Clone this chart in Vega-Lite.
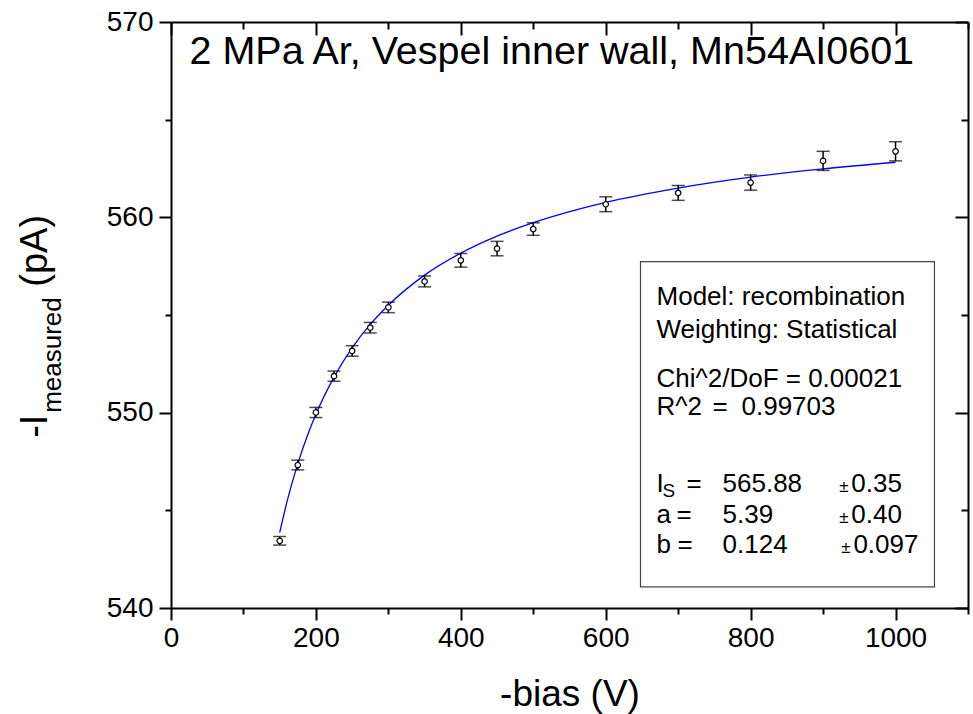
{
  "$schema": "https://vega.github.io/schema/vega-lite/v6.json",
  "autosize": {"type": "none"},
  "padding": {"left": 171, "top": 22, "right": 5, "bottom": 106},
  "width": 797,
  "height": 586,
  "background": "white",
  "config": {
    "view": {"stroke": null},
    "axis": {
      "grid": false,
      "domainColor": "black",
      "domainWidth": 2,
      "tickColor": "black",
      "tickWidth": 2,
      "labelFont": "Liberation Sans",
      "labelFontSize": 28,
      "labelColor": "black",
      "titleFont": "Liberation Sans",
      "titleColor": "black",
      "titleFontWeight": "normal"
    },
    "text": {"font": "Liberation Sans", "color": "black"}
  },
  "datasets": {
    "meas": [
      {"bias": 150, "current": 543.44, "lo": 543.22, "hi": 543.66},
      {"bias": 175, "current": 547.32, "lo": 547.07, "hi": 547.57},
      {"bias": 200, "current": 550.01, "lo": 549.75, "hi": 550.27},
      {"bias": 225, "current": 551.87, "lo": 551.61, "hi": 552.13},
      {"bias": 250, "current": 553.16, "lo": 552.89, "hi": 553.43},
      {"bias": 275, "current": 554.35, "lo": 554.08, "hi": 554.62},
      {"bias": 300, "current": 555.39, "lo": 555.12, "hi": 555.66},
      {"bias": 350, "current": 556.72, "lo": 556.44, "hi": 557.00},
      {"bias": 400, "current": 557.80, "lo": 557.45, "hi": 558.15},
      {"bias": 450, "current": 558.40, "lo": 558.03, "hi": 558.77},
      {"bias": 500, "current": 559.40, "lo": 559.08, "hi": 559.72},
      {"bias": 600, "current": 560.67, "lo": 560.29, "hi": 561.05},
      {"bias": 700, "current": 561.25, "lo": 560.87, "hi": 561.63},
      {"bias": 800, "current": 561.78, "lo": 561.39, "hi": 562.17},
      {"bias": 900, "current": 562.89, "lo": 562.40, "hi": 563.38},
      {"bias": 1000, "current": 563.38, "lo": 562.89, "hi": 563.87}
    ],
    "fit": [
      {"bias": 150, "current": 543.86},
      {"bias": 160, "current": 545.43},
      {"bias": 175, "current": 547.39},
      {"bias": 190, "current": 549.00},
      {"bias": 200, "current": 549.92},
      {"bias": 225, "current": 551.82},
      {"bias": 250, "current": 553.32},
      {"bias": 275, "current": 554.52},
      {"bias": 300, "current": 555.50},
      {"bias": 350, "current": 557.04},
      {"bias": 400, "current": 558.17},
      {"bias": 450, "current": 559.04},
      {"bias": 500, "current": 559.73},
      {"bias": 600, "current": 560.77},
      {"bias": 700, "current": 561.50},
      {"bias": 800, "current": 562.06},
      {"bias": 900, "current": 562.48},
      {"bias": 1000, "current": 562.82}
    ],
    "box": [
      {"x1": 648, "x2": 1053.7, "y1": 541.08, "y2": 557.73}
    ],
    "boxtext": [
      {"x": 670.1, "y": 555.53, "t": "Model: recombination"},
      {"x": 670.1, "y": 553.83, "t": "Weighting: Statistical"},
      {"x": 670.1, "y": 551.32, "t": "Chi^2/DoF = 0.00021"},
      {"x": 670.1, "y": 549.89, "t": "R^2"},
      {"x": 747.4, "y": 549.89, "t": "="},
      {"x": 787.4, "y": 549.89, "t": "0.99703"},
      {"x": 670.1, "y": 545.94, "t": "I"},
      {"x": 711.5, "y": 545.94, "t": "="},
      {"x": 761.2, "y": 545.94, "t": "565.88"},
      {"x": 939.0, "y": 545.94, "t": "0.35"},
      {"x": 670.1, "y": 544.36, "t": "a"},
      {"x": 697.7, "y": 544.36, "t": "="},
      {"x": 761.2, "y": 544.36, "t": "5.39"},
      {"x": 939.0, "y": 544.36, "t": "0.40"},
      {"x": 670.1, "y": 542.82, "t": "b"},
      {"x": 699.0, "y": 542.82, "t": "="},
      {"x": 761.2, "y": 542.82, "t": "0.124"},
      {"x": 941.8, "y": 542.82, "t": "0.097"}
    ],
    "pm": [
      {"x": 922.4, "y": 545.94, "t": "±"},
      {"x": 922.4, "y": 544.36, "t": "±"},
      {"x": 925.2, "y": 542.82, "t": "±"}
    ],
    "sub": [
      {"x": 678.4, "y": 545.69, "t": "S"}
    ],
    "title": [
      {"x": 25.5, "y": 567.85, "t": "2 MPa Ar, Vespel inner wall, Mn54AI0601"}
    ],
    "ytitle": [
      {"x": -171.5, "y": 548.71, "t": "-I"},
      {"x": -171.5, "y": 556.45, "t": "(pA)"}
    ],
    "ytitlesub": [
      {"x": -152.5, "y": 549.99, "t": "measured"}
    ]
  },
  "resolve": {
    "scale": {"x": "shared", "y": "shared"},
    "axis": {"x": "independent", "y": "independent"}
  },
  "layer": [
    {
      "data": {"name": "box"},
      "mark": {"type": "rect", "fill": "white", "stroke": "#444444", "strokeWidth": 1.2},
      "encoding": {
        "x": {"field": "x1", "type": "quantitative", "scale": {"domain": [0, 1100], "nice": false, "zero": false}, "axis": null},
        "x2": {"field": "x2"},
        "y": {"field": "y1", "type": "quantitative", "scale": {"domain": [540, 570], "nice": false, "zero": false}, "axis": null},
        "y2": {"field": "y2"}
      }
    },
    {
      "data": {"name": "fit"},
      "mark": {"type": "line", "color": "#0000ff", "strokeWidth": 1.3, "interpolate": "monotone"},
      "encoding": {
        "x": {"field": "bias", "type": "quantitative", "scale": {"domain": [0, 1100], "nice": false, "zero": false},
          "axis": {"orient": "top", "values": [0, 100, 200, 300, 400, 500, 600, 700, 800, 900, 1000, 1100], "labels": false, "title": null,
            "tickSize": {"condition": {"test": "datum.value % 200 === 0", "value": -13}, "value": -7}}},
        "y": {"field": "current", "type": "quantitative", "scale": {"domain": [540, 570], "nice": false, "zero": false},
          "axis": {"orient": "right", "values": [540, 545, 550, 555, 560, 565, 570], "labels": false, "title": null,
            "tickSize": {"condition": {"test": "datum.value % 10 === 0", "value": -13}, "value": -7}}}
      }
    },
    {
      "data": {"name": "meas"},
      "mark": {"type": "rule", "color": "black", "strokeWidth": 1.5},
      "encoding": {
        "x": {"field": "bias", "type": "quantitative", "axis": null},
        "y": {"field": "lo", "type": "quantitative", "axis": null},
        "y2": {"field": "hi"}
      }
    },
    {
      "data": {"name": "meas"},
      "mark": {"type": "tick", "orient": "horizontal", "color": "black", "size": 13, "thickness": 1.5},
      "encoding": {
        "x": {"field": "bias", "type": "quantitative", "axis": null},
        "y": {"field": "lo", "type": "quantitative", "axis": null}
      }
    },
    {
      "data": {"name": "meas"},
      "mark": {"type": "tick", "orient": "horizontal", "color": "black", "size": 13, "thickness": 1.5},
      "encoding": {
        "x": {"field": "bias", "type": "quantitative", "axis": null},
        "y": {"field": "hi", "type": "quantitative", "axis": null}
      }
    },
    {
      "data": {"name": "meas"},
      "mark": {"type": "point", "shape": "circle", "filled": false, "fill": "white", "fillOpacity": 1, "stroke": "black", "strokeWidth": 1.2, "size": 30, "opacity": 1},
      "encoding": {
        "x": {"field": "bias", "type": "quantitative", "scale": {"domain": [0, 1100], "nice": false, "zero": false},
          "axis": {"orient": "bottom", "values": [0, 100, 200, 300, 400, 500, 600, 700, 800, 900, 1000, 1100], "format": "d",
            "labelExpr": "datum.value % 200 === 0 ? datum.label : ''", "labelOverlap": false, "labelFlush": false, "labelPadding": 4,
            "tickSize": {"condition": {"test": "datum.value % 200 === 0", "value": 12}, "value": 6},
            "title": "-bias (V)", "titleFontSize": 37, "titleBaseline": "alphabetic", "titleY": 97, "titleX": 398.5, "titleAlign": "center"}},
        "y": {"field": "current", "type": "quantitative", "scale": {"domain": [540, 570], "nice": false, "zero": false},
          "axis": {"orient": "left", "values": [540, 545, 550, 555, 560, 565, 570], "format": "d",
            "labelExpr": "datum.value % 10 === 0 ? datum.label : ''", "labelOverlap": false, "labelFlush": false, "labelPadding": 6,
            "tickSize": {"condition": {"test": "datum.value % 10 === 0", "value": 12}, "value": 6},
            "title": null}}
      }
    },
    {
      "data": {"name": "boxtext"},
      "mark": {"type": "text", "align": "left", "baseline": "alphabetic", "fontSize": 26},
      "encoding": {
        "x": {"field": "x", "type": "quantitative", "axis": null},
        "y": {"field": "y", "type": "quantitative", "axis": null},
        "text": {"field": "t"}
      }
    },
    {
      "data": {"name": "pm"},
      "mark": {"type": "text", "align": "left", "baseline": "alphabetic", "fontSize": 17},
      "encoding": {
        "x": {"field": "x", "type": "quantitative", "axis": null},
        "y": {"field": "y", "type": "quantitative", "axis": null},
        "text": {"field": "t"}
      }
    },
    {
      "data": {"name": "sub"},
      "mark": {"type": "text", "align": "left", "baseline": "alphabetic", "fontSize": 19},
      "encoding": {
        "x": {"field": "x", "type": "quantitative", "axis": null},
        "y": {"field": "y", "type": "quantitative", "axis": null},
        "text": {"field": "t"}
      }
    },
    {
      "data": {"name": "title"},
      "mark": {"type": "text", "align": "left", "baseline": "alphabetic", "fontSize": 39.5},
      "encoding": {
        "x": {"field": "x", "type": "quantitative", "axis": null},
        "y": {"field": "y", "type": "quantitative", "axis": null},
        "text": {"field": "t"}
      }
    },
    {
      "data": {"name": "ytitle"},
      "mark": {"type": "text", "align": "left", "baseline": "alphabetic", "fontSize": 38, "angle": 270},
      "encoding": {
        "x": {"field": "x", "type": "quantitative", "axis": null},
        "y": {"field": "y", "type": "quantitative", "axis": null},
        "text": {"field": "t"}
      }
    },
    {
      "data": {"name": "ytitlesub"},
      "mark": {"type": "text", "align": "left", "baseline": "alphabetic", "fontSize": 26, "angle": 270},
      "encoding": {
        "x": {"field": "x", "type": "quantitative", "axis": null},
        "y": {"field": "y", "type": "quantitative", "axis": null},
        "text": {"field": "t"}
      }
    }
  ]
}
